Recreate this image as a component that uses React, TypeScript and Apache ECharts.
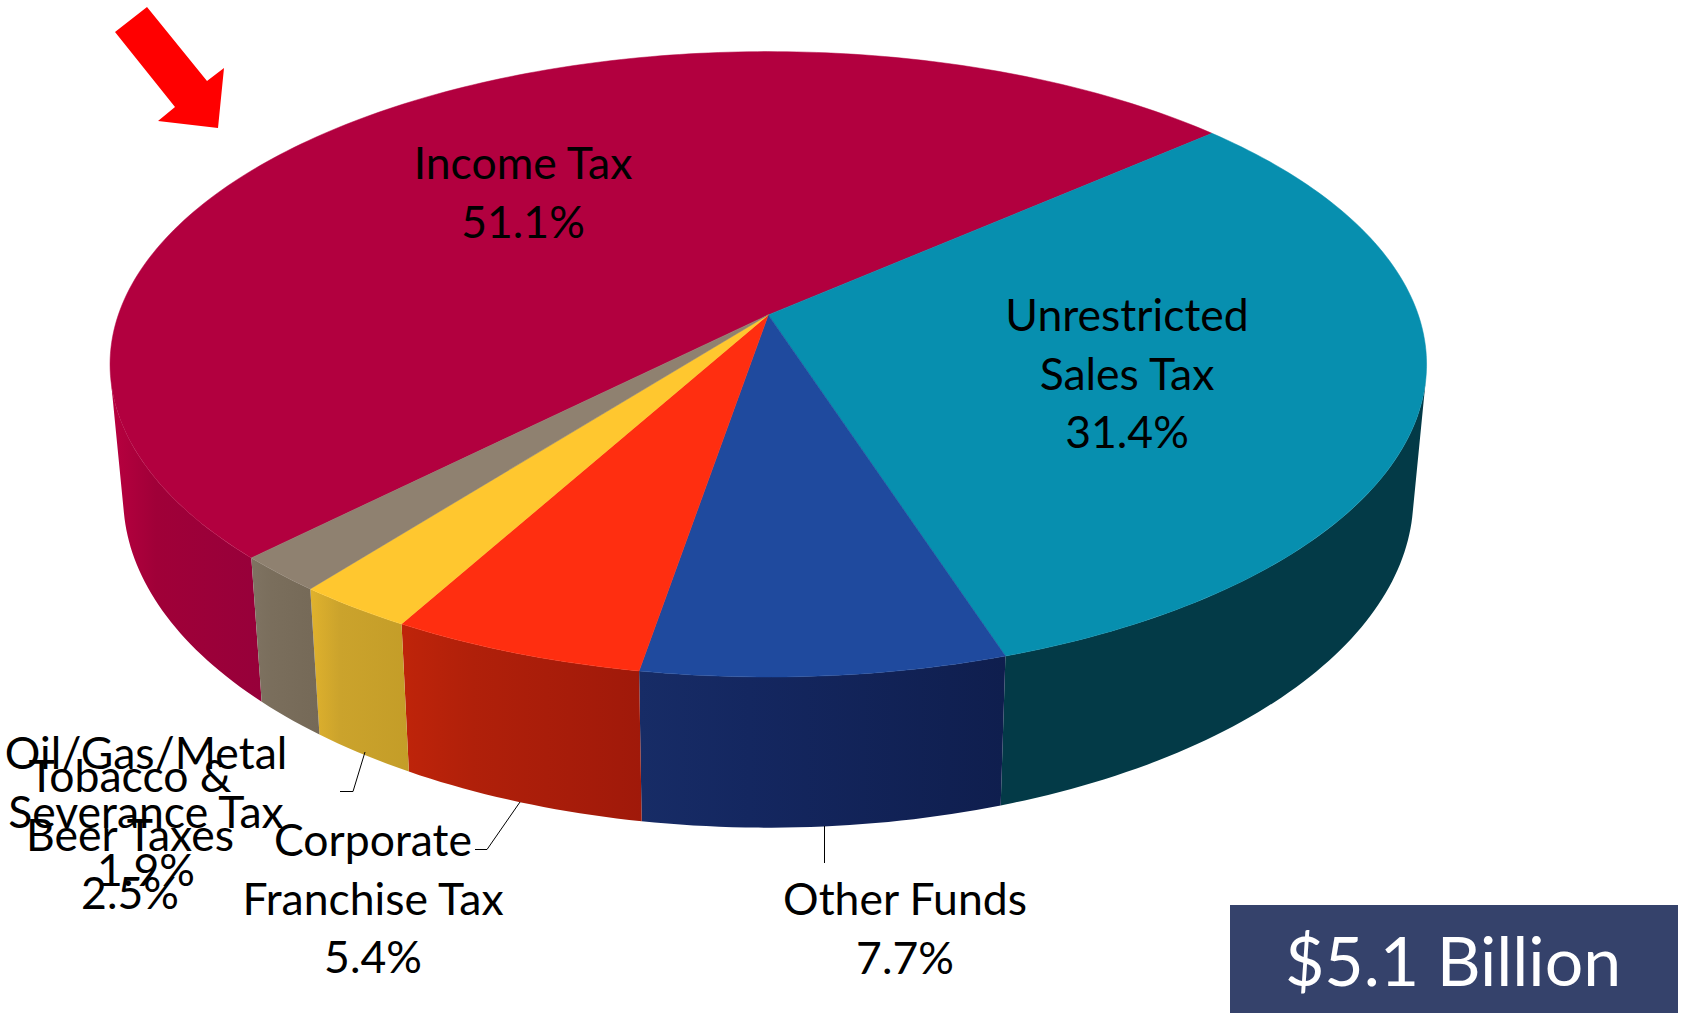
import React, { useEffect, useRef } from "react";
import * as echarts from "echarts";

const categories = ["Income Tax", "Unrestricted Sales Tax", "Other Funds", "Corporate Franchise Tax", "Tobacco & Beer Taxes", "Oil/Gas/Metal Severance Tax"];
const shares = [51.1, 31.4, 7.7, 5.4, 2.5, 1.9];
const labelLines = [["Income Tax"], ["Unrestricted", "Sales Tax"], ["Other Funds"], ["Corporate", "Franchise Tax"], ["Tobacco &", "Beer Taxes"], ["Oil/Gas/Metal", "Severance Tax"]];
const totalLabel = "$5.1 Billion";

const topColors = ["#B2003F", "#078FAF", "#1F4A9E", "#FF2E10", "#FFC72F", "#8F8170"];
const sideColors = [
  ["#B8003F", "#A00038", "#97003A"],
  ["#033A47", "#033A47", "#033A47"],
  ["#172C66", "#142760", "#0F1E4E"],
  ["#BF240A", "#B0200A", "#A0190A"],
  ["#E0B22D", "#CBA32C", "#C49D28"],
  ["#7F7362", "#7A6E5C", "#756957"],
];
// layout of the label text: centre x, y of the first line
const labelPos = [[523, 161.5], [1127, 313.5], [905, 897.5], [373, 838.5], [130, 774.5], [146, 751.5]];
const leaders: number[][][] = [[], [], [[824.5, 826], [824.5, 863]], [[520, 802], [487, 849.5], [475, 849.5]], [[365, 752], [353, 791.5], [340, 791.5]], []];

const LINE_H = 58.6;
const FONT = '44.5px Lato, "Open Sans", sans-serif';

// perspective projection of the pie's circle
const APEX_X = 768.3, APEX_Y = 314.9, A = 650, B = 304.9, K = -0.158;
const START = -41.1 - (51.1 / 100) * 360;
const project = (deg: number) => {
  const t = (deg * Math.PI) / 180;
  const c = Math.cos(t), s = Math.sin(t), d = 1 + K * s;
  return [(A * c) / d, (B * s) / d];
};
const top = (deg: number) => { const p = project(deg); return [APEX_X + p[0], APEX_Y + p[1]]; };
const bottom = (deg: number) => { const p = project(deg); return [APEX_X + 0.98 * p[0], 444.9 + 1.057 * p[1]]; };
const angleRange = (i: number) => {
  const total = shares.reduce((a, b) => a + b, 0);
  const before = shares.slice(0, i).reduce((a, b) => a + b, 0);
  return [START + (before / total) * 360, START + ((before + shares[i]) / total) * 360];
};
const arc = (fn: (d: number) => number[], from: number, to: number) => {
  const n = Math.max(2, Math.ceil(Math.abs(to - from)));
  const out: number[][] = [];
  for (let j = 0; j <= n; j++) out.push(fn(from + ((to - from) * j) / n));
  return out;
};

// where the wall's edge is tangent to the top rim: the wall is only visible between these angles
const tangentAngle = (from: number, to: number) => {
  let best = from, bestV = Infinity;
  for (let d = from; d <= to; d += 0.25) {
    const a = top(d), b = top(d + 0.25), c = bottom(d);
    const v = Math.abs((b[0] - a[0]) * (c[1] - a[1]) - (b[1] - a[1]) * (c[0] - a[0]));
    if (v < bestV) { bestV = v; best = d; }
  }
  return best;
};
const WALL_FROM = tangentAngle(-60, 40);
const WALL_TO = tangentAngle(140, 240);

const renderSide = (params: any) => {
  const i = params.dataIndex;
  const [a0, a1] = angleRange(i);
  const ranges: number[][] = [];
  for (const off of [-360, 0, 360]) {
    const f = Math.max(a0 + off, WALL_FROM), t = Math.min(a1 + off, WALL_TO);
    if (t > f) ranges.push([f, t]);
  }
  const children = ranges.map(([f, t]) => ({
    type: "polygon",
    shape: { points: [...arc(top, f, t), ...arc(bottom, t, f)] },
    style: {
      // Income's wall is seen left of its front edge, so its light end sits at the far left
      fill: new echarts.graphic.LinearGradient(i === 0 ? 1 : 0, 0, i === 0 ? 0 : 1, 0, [
        { offset: 0, color: sideColors[i][i === 0 ? 2 : 0] },
        { offset: i === 0 ? 0.7 : 0.3, color: sideColors[i][1] },
        { offset: 1, color: sideColors[i][i === 0 ? 0 : 2] },
      ]),
      stroke: null,
    },
    silent: true,
  }));
  return { type: "group", children };
};

const renderTop = (params: any) => {
  const i = params.dataIndex;
  const [a0, a1] = angleRange(i);
  return {
    type: "polygon",
    shape: { points: [[APEX_X, APEX_Y], ...arc(top, a0, a1)] },
    style: { fill: topColors[i], stroke: topColors[i], lineWidth: 0.5 },
    silent: true,
  };
};

const renderLabel = (params: any, api: any) => {
  const i = params.dataIndex;
  const lines = [...labelLines[i], `${api.value(0)}%`];
  const [x, y] = labelPos[i];
  const children: any[] = lines.map((t, j) => ({
    type: "text",
    x,
    y: y + j * LINE_H,
    style: { text: t, font: FONT, fill: "#000000", align: "center", verticalAlign: "middle" },
    silent: true,
  }));
  if (leaders[i].length)
    children.push({
      type: "polyline",
      shape: { points: leaders[i] },
      style: { stroke: "#000000", lineWidth: 1, fill: null },
      silent: true,
    });
  return { type: "group", children };
};

const seriesData = categories.map((name, i) => ({ name, value: shares[i] }));

export default function App() {
  const ref = useRef<HTMLDivElement>(null);
  useEffect(() => {
    document.body.style.margin = "0";
    document.body.style.background = "#ffffff";
    const chart = echarts.init(ref.current!, null, { renderer: "svg" });
    chart.setOption({
      animation: false,
      backgroundColor: "#ffffff",
      series: [
        { type: "custom", coordinateSystem: "none", z: 1, data: seriesData, renderItem: renderSide, silent: true },
        { type: "custom", coordinateSystem: "none", z: 2, data: seriesData, renderItem: renderTop, silent: true },
        { type: "custom", coordinateSystem: "none", z: 3, data: seriesData, renderItem: renderLabel, silent: true },
      ],
      graphic: [
        {
          type: "polygon",
          z: 10,
          shape: { points: [[147, 7], [207, 81], [224, 68], [218, 128], [158, 121], [175, 107], [115, 32]] },
          style: { fill: "#FF0000" },
        },
        { type: "rect", z: 10, shape: { x: 1230, y: 905, width: 448, height: 108 }, style: { fill: "#35426B" } },
        {
          type: "text",
          z: 11,
          x: 1453,
          y: 959,
          style: { text: totalLabel, font: '68px Lato, "Open Sans", sans-serif', fill: "#FFFFFF", align: "center", verticalAlign: "middle" },
        },
      ],
    });
    return () => chart.dispose();
  }, []);
  return <div ref={ref} style={{ width: 1685, height: 1013 }} />;
}
